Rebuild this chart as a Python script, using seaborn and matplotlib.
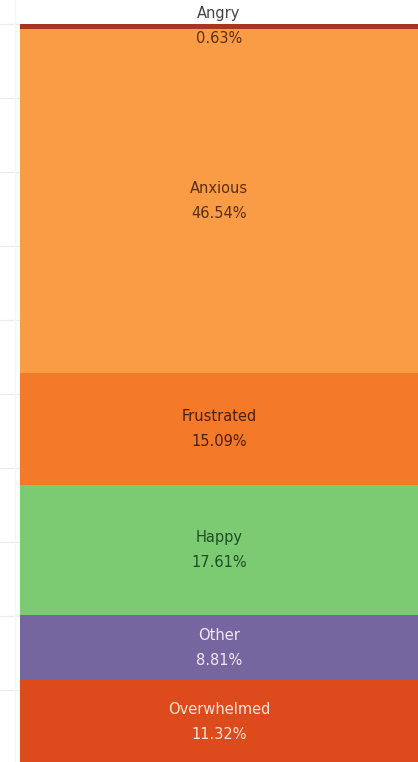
import seaborn as sns
import matplotlib.pyplot as plt
import pandas as pd
import numpy as np

# data
emotions = ["Angry", "Anxious", "Frustrated", "Happy", "Other", "Overwhelmed"]
shares = [0.63, 46.54, 15.09, 17.61, 8.81, 11.32]
colors = ["#a93420", "#f99c45", "#f47a2a", "#7ccb72", "#76669f", "#dd4b1c"]
text_colors = ["#5a2e12", "#5a3010", "#4a2008", "#1d4f24", "#eeeaf6", "#fbe6d6"]

df = pd.DataFrame({"group": ["all"] * len(emotions), "emotion": emotions, "share": shares})
df["bottom"] = df["share"].cumsum() - df["share"]

sns.set_style("white")
plt.rcParams["font.family"] = ["DejaVu Sans"]

fig = plt.figure(figsize=(4.18, 7.62), dpi=100)
ax = fig.add_axes([0, 0, 1, 1])

for i, row in df.iterrows():
    sns.barplot(x=[0], y=[row["share"]], bottom=row["bottom"], color=colors[i],
                width=1.0, saturation=1, ax=ax, zorder=2, linewidth=0)

# 7.4 px per percent, bar starts 24 px from top and 20 px from left
ax.set_ylim(99.73, -3.24)
ax.set_xlim(-0.5 - 20 / 398, 0.5)

ax.set_yticks(np.arange(0, 100, 10))
ax.yaxis.grid(True, color="#ececec", linewidth=0.8, zorder=0)
ax.set_axisbelow(True)
ax.tick_params(left=False, bottom=False, labelleft=False, labelbottom=False)
for s in ax.spines.values():
    s.set_visible(False)
ax.axvline(-0.5 - 5 / 398, color="#f1f6f8", linewidth=1, zorder=1)

# labels
for i, row in df.iterrows():
    yc = row["bottom"] + row["share"] / 2
    name_col = "#444444" if row["emotion"] == "Angry" else text_colors[i]
    ax.annotate(row["emotion"], (0, yc), xytext=(0, 9), textcoords="offset points",
                ha="center", va="center", fontsize=10.5, color=name_col, zorder=5)
    ax.annotate("{:.2f}%".format(row["share"]), (0, yc), xytext=(0, -9),
                textcoords="offset points", ha="center", va="center",
                fontsize=10.5, color=text_colors[i], zorder=5)

fig.savefig("out.png", dpi=100)
